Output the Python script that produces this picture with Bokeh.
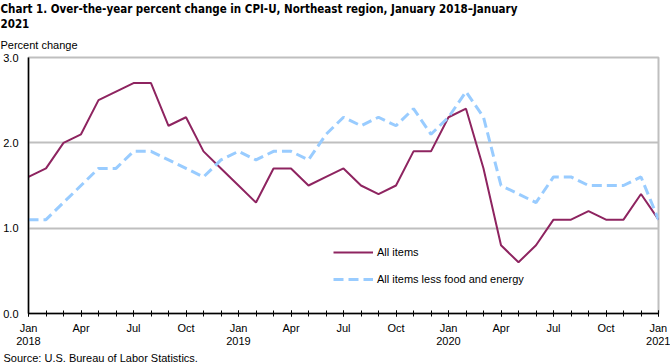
from bokeh.plotting import figure
from bokeh.models import FixedTicker, Title, Legend, LegendItem
from bokeh.embed import file_html
from bokeh.resources import INLINE

all_items = [1.6, 1.7, 2.0, 2.1, 2.5, 2.6, 2.7, 2.7, 2.2, 2.3, 1.9, 1.7,
             1.5, 1.3, 1.7, 1.7, 1.5, 1.6, 1.7, 1.5, 1.4, 1.5, 1.9, 1.9,
             2.3, 2.4, 1.7, 0.8, 0.6, 0.8, 1.1, 1.1, 1.2, 1.1, 1.1, 1.4,
             1.1]
core = [1.1, 1.1, 1.3, 1.5, 1.7, 1.7, 1.9, 1.9, 1.8, 1.7, 1.6, 1.8,
        1.9, 1.8, 1.9, 1.9, 1.8, 2.1, 2.3, 2.2, 2.3, 2.2, 2.4, 2.1,
        2.3, 2.6, 2.3, 1.5, 1.4, 1.3, 1.6, 1.6, 1.5, 1.5, 1.5, 1.6,
        1.1]
tick_labels = ["Jan\n2018", "Apr", "Jul", "Oct", "Jan\n2019", "Apr", "Jul", "Oct",
               "Jan\n2020", "Apr", "Jul", "Oct", "Jan\n2021"]
y_ticks = [0.0, 1.0, 2.0, 3.0]

months = list(range(len(all_items)))
major = months[::3]

FONT = "Liberation Sans"
TFONT = "DejaVu Sans Condensed"

p = figure(width=670, height=363, output_backend="svg", toolbar_location=None,
           x_range=(0, len(all_items) - 1), y_range=(0, 3.0),
           min_border_left=28, min_border_right=12, min_border_top=0, min_border_bottom=49)
p.background_fill_color = "white"
p.outline_line_color = "#BFBFBF"
p.outline_line_width = 2

t2 = Title(text="2021", text_font=TFONT, text_font_size="11.5px", text_font_style="bold",
           text_color="black", offset=-28, standoff=1, vertical_align="top")
t1 = Title(text="Chart 1. Over-the-year percent change in CPI-U, Northeast region, January 2018\u2013January",
           text_font=TFONT, text_font_size="11.5px", text_font_style="bold",
           text_color="black", offset=-28, standoff=2, vertical_align="top")
p.add_layout(Title(text="Percent change", text_font=FONT, text_font_size="11px",
                   text_font_style="normal", text_color="black", offset=-28, standoff=12.5), "above")
p.add_layout(t2, "above")
p.add_layout(t1, "above")

p.xaxis.ticker = FixedTicker(ticks=major, minor_ticks=months)
p.xaxis.major_label_overrides = {m: lab for m, lab in zip(major, tick_labels)}
p.xaxis.major_tick_in = 3
p.xaxis.major_tick_out = 3
p.xaxis.minor_tick_in = 3
p.xaxis.minor_tick_out = 3
p.xaxis.axis_line_color = "black"
p.xaxis.major_tick_line_color = "black"
p.xaxis.minor_tick_line_color = "black"
p.xaxis.axis_line_width = 1.5
p.xaxis.major_label_text_font = FONT
p.xaxis.major_label_text_font_size = "11px"
p.xaxis.major_label_text_color = "black"
p.xaxis.major_label_standoff = 5
p.xaxis.major_label_text_line_height = 1.1

p.yaxis.ticker = FixedTicker(ticks=y_ticks)
p.yaxis.major_label_overrides = {v: f"{v:.1f}" for v in y_ticks}
p.yaxis.major_tick_in = 0
p.yaxis.major_tick_out = 0
p.yaxis.minor_tick_line_color = None
p.yaxis.axis_line_color = "black"
p.yaxis.axis_line_width = 1.5
p.yaxis.major_label_text_font = FONT
p.yaxis.major_label_text_font_size = "11px"
p.yaxis.major_label_text_color = "black"
p.yaxis.major_label_standoff = 10

p.xgrid.grid_line_color = None
p.ygrid.grid_line_color = "#BFBFBF"
p.ygrid.grid_line_width = 2
p.ygrid.ticker = FixedTicker(ticks=[1.0, 2.0])

r1 = p.line(months, all_items, line_color="#8E2460", line_width=2)
r2 = p.line(months, core, line_color="#99CCFF", line_width=3, line_dash="10 5")

legend = Legend(items=[LegendItem(label="All items", renderers=[r1]),
                       LegendItem(label="All items less food and energy", renderers=[r2])],
                location=(305, 24), orientation="vertical",
                glyph_width=40, glyph_height=20, label_height=20, spacing=7,
                label_standoff=4, padding=0, margin=0,
                border_line_alpha=0, background_fill_alpha=0,
                label_text_font=FONT, label_text_font_size="11px", label_text_color="black")
p.add_layout(legend, "center")

p.add_layout(Title(text="Source: U.S. Bureau of Labor Statistics.", text_font=FONT,
                   text_font_size="11px", text_font_style="normal", text_color="black",
                   offset=-25, standoff=0), "below")

open("out.html", "w").write(file_html(p, INLINE))
